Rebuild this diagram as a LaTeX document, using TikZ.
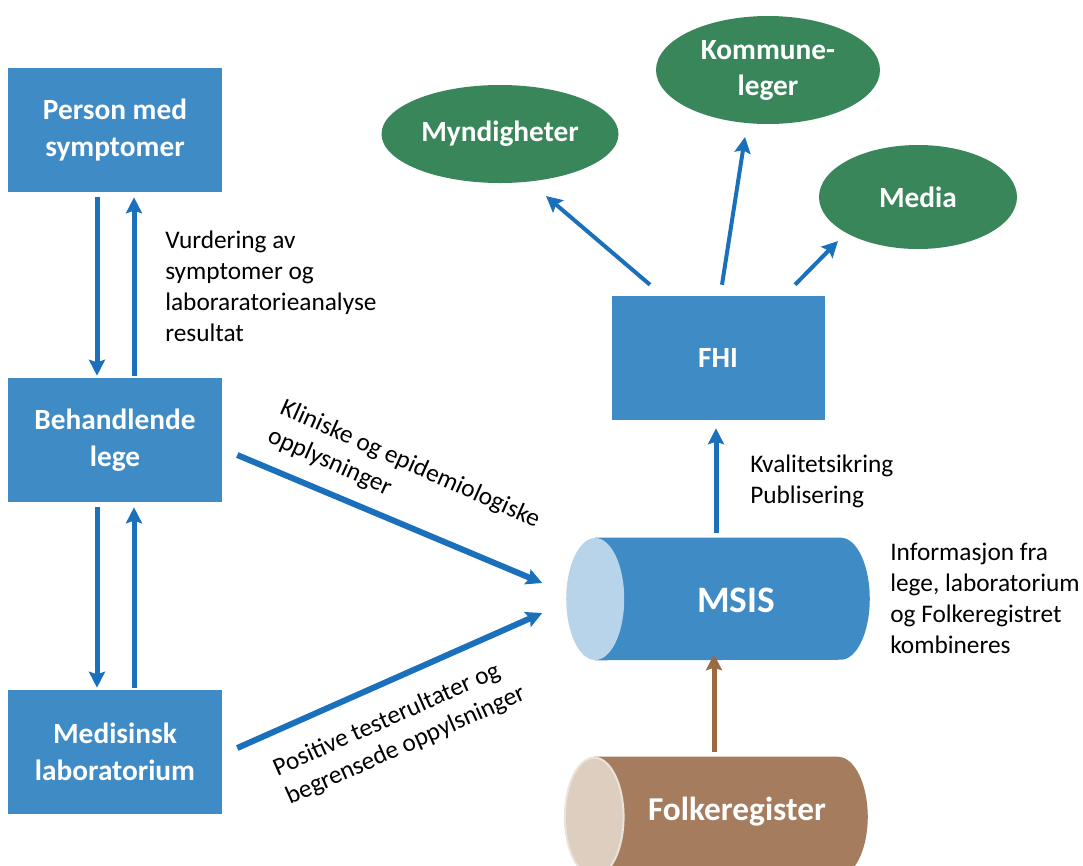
\documentclass[tikz,border=0pt]{standalone}
\usepackage{fontspec}
\setmainfont{Carlito}
\usetikzlibrary{shapes.geometric, arrows.meta}
\definecolor{MSISblue}{HTML}{3F8BC6}
\definecolor{MSISarrow}{HTML}{1B70BC}
\definecolor{MSISlight}{HTML}{B8D4EA}
\definecolor{FHIgreen}{HTML}{3A865B}
\definecolor{FRbrown}{HTML}{A57D5E}
\definecolor{FRlight}{HTML}{DDCEC0}
\definecolor{FRrim}{HTML}{EAE3DC}
\definecolor{FRarrow}{HTML}{9A6A44}

\begin{document}
\begin{tikzpicture}[x=0.75pt, y=-0.75pt,
      box/.style={fill=MSISblue, text=white, font=\fontsize{22}{27.75}\selectfont\bfseries,
                  align=center, minimum width=160.5pt, minimum height=93pt, inner sep=0pt},
      oval/.style={ellipse, fill=FHIgreen, text=white, font=\fontsize{22}{27}\selectfont\bfseries,
                   align=center, inner sep=0pt},
      lbl/.style={font=\fontsize{19}{23.25}\selectfont, align=left, inner sep=0pt},
      arr/.style={-{Stealth[length=12pt, width=12pt, inset=2pt]}, line width=3.75pt, MSISarrow},
   ]
      \useasboundingbox (0,0) rectangle (1083,865);

      % left column
      \node[box] (person) at (115,130) {Person med\\symptomer};
      \node[box] (beh) at (115,440) {Behandlende\\lege};
      \node[box] (med) at (115,752) {Medisinsk\\laboratorium};

      \draw[arr] ([shift={(-18,5)}]person.south) -- ([shift={(-18,-2)}]beh.north);
      \draw[arr] ([shift={(19,-2)}]beh.north) -- ([shift={(19,5)}]person.south);
      \draw[arr] ([shift={(-18,5)}]beh.south) -- ([shift={(-18,-2)}]med.north);
      \draw[arr] ([shift={(19,-2)}]med.north) -- ([shift={(19,5)}]beh.south);

      \node[lbl, anchor=north west] (vurd) at (165,231)
         {Vurdering av\\symptomer og\\laboraratorieanalyse\\resultat};

      % MSIS (cylinder)
      \node[minimum width=227.25pt, minimum height=91.5pt, inner sep=0pt] (msis) at (718,599) {};
      \fill[MSISblue] ([xshift=21.75pt]msis.north west) -- ([xshift=-21.75pt]msis.north east)
         arc[start angle=90, end angle=-90, x radius=21.75pt, y radius=45.75pt]
         -- ([xshift=21.75pt]msis.south west) -- cycle;
      \fill[MSISlight] ([xshift=21.75pt]msis.west) ellipse[x radius=21.75pt, y radius=45.75pt];
      \node[text=white, font=\fontsize{28}{32}\selectfont\bfseries] (msistxt) at (736,600) {MSIS};

      % Folkeregister (cylinder)
      \node[minimum width=227.25pt, minimum height=90pt, inner sep=0pt] (folk) at (716,817) {};
      \fill[FRbrown] ([xshift=22.5pt]folk.north west) -- ([xshift=-22.5pt]folk.north east)
         arc[start angle=90, end angle=-90, x radius=22.5pt, y radius=45pt]
         -- ([xshift=22.5pt]folk.south west) -- cycle;
      \filldraw[fill=FRlight, draw=FRrim, line width=1.5pt]
         ([xshift=22.5pt]folk.west) ellipse[x radius=22pt, y radius=44.5pt];
      \node[text=white, font=\fontsize{25}{30}\selectfont\bfseries] (folktxt) at (737,812) {Folkeregister};

      % arrows into MSIS
      \draw[arr, line width=4.5pt] ([shift={(15,15)}]beh.east) -- ([shift={(-24,-16)}]msis.west);
      \draw[arr, line width=4.5pt] ([shift={(15,-4)}]med.east) -- ([shift={(-24,14)}]msis.west);
      \node[lbl, anchor=north west, rotate=-24] (klin) at (286,397)
         {Kliniske og epidemiologiske\\opplysninger};
      \node[lbl, anchor=north west, rotate=24] (posi) at (270,760)
         {Positive testerultater og\\begrensede oppylsninger};

      \draw[arr, FRarrow] ([shift={(-2,-5)}]folk.north) -- ([shift={(-4,-6)}]msis.south);
      \node[lbl, anchor=north west] (info) at (890,543)
         {Informasjon fra\\lege, laboratorium\\og Folkeregistret\\kombineres};

      % FHI
      \node[box, minimum width=159.75pt] (fhi) at (718,358) {FHI};
      \draw[arr] ([shift={(-2,-5)}]msis.north) -- ([shift={(-2,8)}]fhi.south);
      \node[lbl, anchor=north west] (kval) at (750,455) {Kvalitetsikring\\Publisering};

      % receivers
      \node[oval, minimum width=177.75pt, minimum height=73.5pt] (mynd) at (500,134) {Myndigheter};
      \node[oval, minimum width=168pt, minimum height=81pt] (komm) at (768,70) {Kommune-\\leger};
      \node[oval, minimum width=148.5pt, minimum height=78pt] (media) at (918,197) {Media};

      \draw[arr, line width=3pt] ([shift={(-68,-11)}]fhi.north) -- ([shift={(46,62)}]mynd.center);
      \draw[arr, line width=3pt] ([shift={(4,-11)}]fhi.north) -- ([shift={(-23,67)}]komm.center);
      \draw[arr, line width=3pt] ([shift={(77,-11)}]fhi.north) -- ([shift={(-80,44)}]media.center);
   \end{tikzpicture}
\end{document}
